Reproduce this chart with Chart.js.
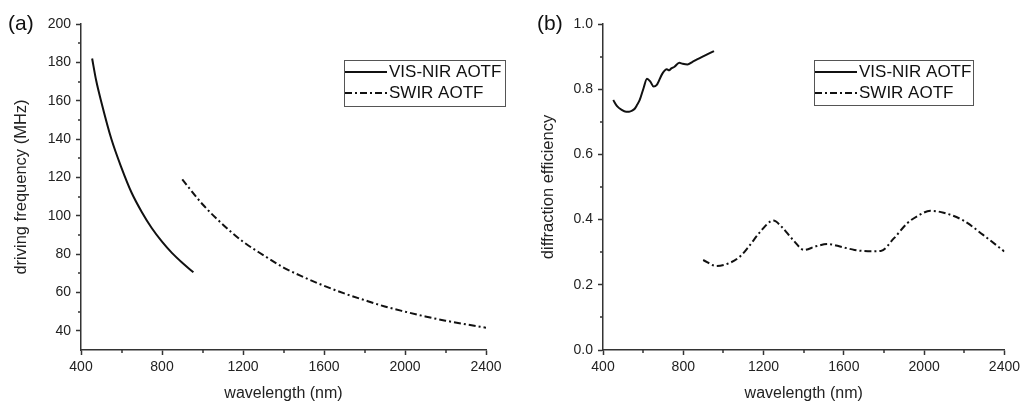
<!DOCTYPE html>
<html>
<head>
<meta charset="utf-8">
<script src="https://cdn.jsdelivr.net/npm/chart.js@4.4.1/dist/chart.umd.min.js"></script>
<style>
  html, body { margin: 0; padding: 0; background: #fff; }
  #wrap { position: relative; width: 1024px; height: 407px; overflow: hidden; }
  canvas { position: absolute; top: 0; }
  .tag { position: absolute; font: 21px "Liberation Sans", Arial, sans-serif; line-height: 24px; color: #111; }
</style>
</head>
<body>
<div id="wrap">
  <canvas id="chartFreq" width="512" height="407" style="left:0"></canvas>
  <canvas id="chartEff" width="512" height="407" style="left:512px"></canvas>
  <div class="tag" style="left:8px;top:11px">(a)</div>
  <div class="tag" style="left:537px;top:11px">(b)</div>
</div>
<script>
const FAMILY = '"Liberation Sans", Arial, sans-serif';
const INK    = '#222';
const AXIS   = '#333';

// ── Datos (a): frecuencia de excitación ──
const freqVisWl   = [455, 475, 500, 550, 600, 650, 700, 750, 800, 850, 900, 955];
const freqVis     = [182, 170.5, 159.5, 140, 125, 112, 102, 93.5, 86.5, 80.5, 75.5, 70.5];
const freqSwirWl  = [900, 1000, 1100, 1200, 1300, 1400, 1500, 1600, 1700, 1800, 1900, 2000, 2100, 2200, 2300, 2400];
const freqSwir    = [119, 106, 95.5, 86.5, 79.5, 73, 68, 63.5, 59.5, 56, 52.7, 50, 47.5, 45.3, 43.4, 41.6];

// ── Datos (b): eficiencia de difracción ──
const effVisWl  = [451, 470, 492, 515, 530, 545, 558, 570, 583, 602, 619, 636, 652, 668, 695, 718, 730, 739, 756, 780, 797, 821, 846, 871, 904, 953];
const effVis    = [0.767, 0.748, 0.737, 0.731, 0.731, 0.734, 0.740, 0.752, 0.767, 0.803, 0.832, 0.823, 0.808, 0.813, 0.847, 0.861, 0.858, 0.863, 0.869, 0.881, 0.878, 0.876, 0.884, 0.892, 0.902, 0.917];
const effSwirWl = [899, 964, 1027, 1085, 1126, 1184, 1249, 1290, 1348, 1402, 1460, 1521, 1590, 1653, 1720, 1784, 1850, 1916, 1970, 2031, 2097, 2196, 2294, 2400];
const effSwir   = [0.276, 0.258, 0.266, 0.288, 0.317, 0.363, 0.397, 0.378, 0.337, 0.307, 0.318, 0.325, 0.316, 0.307, 0.303, 0.304, 0.343, 0.389, 0.412, 0.427, 0.421, 0.397, 0.353, 0.302];

// ── Ticks ──
const wlTicks   = [400, 800, 1200, 1600, 2000, 2400];
const freqTicks = [40, 60, 80, 100, 120, 140, 160, 180, 200];
const effTicks  = [0, 0.2, 0.4, 0.6, 0.8, 1.0];

const seriesNames = ['VIS-NIR AOTF', 'SWIR AOTF'];

const pts = (xs, ys) => xs.map((x, i) => ({ x, y: ys[i] }));

function midpoints(ticks) {
    const out = [];
    for (let i = 1; i < ticks.length; i++) out.push((ticks[i - 1].value + ticks[i].value) / 2);
    return out;
}

// ── Ticks menores (cortos, hacia fuera) ──
const minorTicks = {
    id: 'minorTicks',
    afterDraw(chart) {
        const { ctx, chartArea, scales: { x, y } } = chart;
        ctx.save();
        ctx.strokeStyle = AXIS;
        ctx.lineWidth = 1.5;
        ctx.beginPath();
        midpoints(x.ticks).forEach(v => {
            const px = Math.round(x.getPixelForValue(v));
            ctx.moveTo(px, chartArea.bottom);
            ctx.lineTo(px, chartArea.bottom + 3);
        });
        midpoints(y.ticks).forEach(v => {
            const py = Math.round(y.getPixelForValue(v));
            ctx.moveTo(chartArea.left, py);
            ctx.lineTo(chartArea.left - 3, py);
        });
        ctx.stroke();
        ctx.restore();
    }
};

// ── Leyenda con recuadro ──
const boxLegend = {
    id: 'boxLegend',
    afterDraw(chart, args, o) {
        const ctx = chart.ctx;
        ctx.save();
        ctx.strokeStyle = '#555';
        ctx.lineWidth = 1;
        ctx.strokeRect(o.x + 0.5, o.y + 0.5, o.w, o.h);
        chart.data.datasets.forEach((ds, i) => {
            const y = o.y + o.rows[i];
            ctx.beginPath();
            ctx.setLineDash(ds.borderDash || []);
            ctx.lineWidth = ds.borderWidth;
            ctx.strokeStyle = ds.borderColor;
            ctx.moveTo(o.x + 1, y);
            ctx.lineTo(o.x + o.sample, y);
            ctx.stroke();
            ctx.setLineDash([]);
            ctx.fillStyle = '#111';
            ctx.font = `17px ${FAMILY}`;
            ctx.textBaseline = 'middle';
            ctx.fillText(ds.label, o.x + o.textX, y);
        });
        ctx.restore();
    }
};

function line(label, data, dash) {
    return {
        label,
        data,
        borderColor: '#111',
        borderWidth: 2,
        borderDash: dash,
        pointRadius: 0,
        fill: false,
        cubicInterpolationMode: 'monotone'
    };
}

function makeChart(id, cfg) {
    const grid = { display: true, drawOnChartArea: false, drawTicks: true, tickLength: 5, tickColor: AXIS, tickWidth: 1.5 };
    const border = { display: true, color: AXIS, width: 1.5 };
    return new Chart(document.getElementById(id), {
        type: 'line',
        data: { datasets: cfg.datasets },
        options: {
            responsive: false,
            animation: false,
            layout: { padding: cfg.padding },
            plugins: {
                legend: { display: false },
                tooltip: { enabled: false },
                boxLegend: cfg.legend
            },
            scales: {
                x: {
                    type: 'linear',
                    min: 400, max: 2400,
                    afterFit: s => { s.height = 57; },
                    afterBuildTicks: s => { s.ticks = wlTicks.map(value => ({ value })); },
                    grid, border,
                    ticks: { color: INK, font: { family: FAMILY, size: 14 }, padding: 4, maxRotation: 0, autoSkip: false, callback: v => String(v) },
                    title: { display: true, text: 'wavelength (nm)', color: INK, font: { family: FAMILY, size: 16 }, padding: { top: 0, bottom: 4 } }
                },
                y: {
                    type: 'linear',
                    min: cfg.yMin, max: cfg.yMax,
                    afterFit: s => { s.width = cfg.yWidth; },
                    afterBuildTicks: s => { s.ticks = cfg.yTicks.map(value => ({ value })); },
                    grid, border,
                    ticks: { color: INK, font: { family: FAMILY, size: 14 }, padding: 5, autoSkip: false, callback: cfg.yFmt },
                    title: { display: true, text: cfg.yTitle, color: INK, font: { family: FAMILY, size: 16.5 }, padding: { top: cfg.yTitlePad, bottom: 0 } }
                }
            }
        },
        plugins: [minorTicks, boxLegend]
    });
}

// ── (a) ──
makeChart('chartFreq', {
    datasets: [
        line(seriesNames[0], pts(freqVisWl, freqVis), []),
        line(seriesNames[1], pts(freqSwirWl, freqSwir), [7, 3, 2, 3])
    ],
    padding: { left: 0, right: 26, top: 24, bottom: 0 },
    yMin: 30, yMax: 200, yTicks: freqTicks, yWidth: 81,
    yFmt: v => String(v),
    yTitle: 'driving frequency (MHz)', yTitlePad: 12,
    legend: { x: 344, y: 60, w: 161, h: 46, rows: [12, 33], sample: 43, textX: 45 }
});

// ── (b) ──
makeChart('chartEff', {
    datasets: [
        line(seriesNames[0], pts(effVisWl, effVis), []),
        line(seriesNames[1], pts(effSwirWl, effSwir), [7, 3, 2, 3])
    ],
    padding: { left: 0, right: 16, top: 24, bottom: 0 },
    yMin: 0, yMax: 1, yTicks: effTicks, yWidth: 91,
    yFmt: v => Number(v).toFixed(1),
    yTitle: 'diffraction efficiency', yTitlePad: 27,
    legend: { x: 302, y: 60, w: 159, h: 45, rows: [12, 33], sample: 43, textX: 45 }
});
</script>
</body>
</html>
